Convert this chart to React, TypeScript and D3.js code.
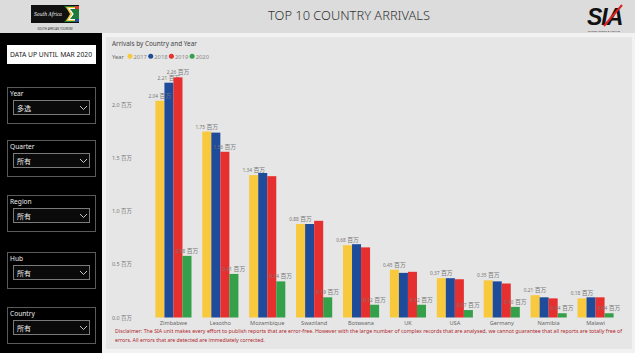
import React from "react";
import * as d3 from "d3";

const countries = ["Zimbabwe", "Lesotho", "Mozambique", "Swaziland", "Botswana", "UK", "USA", "Germany", "Namibia", "Malawi"];
const years = ["2017", "2018", "2019", "2020"];
const v2017 = [2.04, 1.75, 1.34, 0.88, 0.68, 0.45, 0.37, 0.35, 0.21, 0.18];
const v2018 = [2.21, 1.74, 1.36, 0.88, 0.69, 0.42, 0.37, 0.34, 0.19, 0.19];
const v2019 = [2.26, 1.56, 1.33, 0.91, 0.66, 0.43, 0.36, 0.32, 0.18, 0.19];
const v2020 = [0.58, 0.41, 0.34, 0.19, 0.12, 0.12, 0.07, 0.10, 0.04, 0.04];
const yTicks = [0, 0.5, 1.0, 1.5, 2.0];
// which data labels Power BI displays (others hidden due to overlap)
const shownLabels: Record<string, string[]> = {
  "2017": countries,
  "2018": ["Zimbabwe"],
  "2019": ["Zimbabwe", "Lesotho"],
  "2020": countries,
};
const colors = ["#F8C93C", "#1E4C9A", "#E6302F", "#34A04A"];
const slicers = [
  { label: "Year", value: "多选" },
  { label: "Quarter", value: "所有" },
  { label: "Region", value: "所有" },
  { label: "Hub", value: "所有" },
  { label: "Country", value: "所有" },
];
const slicerTops = [87, 140, 195, 252, 307];

const FONT = "'Segoe UI', 'Noto Sans', 'Noto Sans CJK SC', sans-serif";

export default function App() {
  const series = [v2017, v2018, v2019, v2020];
  const x = d3.scaleBand<string>().domain(countries).range([150, 619]).paddingInner(0.23).paddingOuter(0.115);
  const xi = d3.scaleBand<string>().domain(years).range([0, x.bandwidth()]).padding(0);
  const y = d3.scaleLinear().domain([0, 2.4]).range([317.5, 317.5 - 2.4 * 106.25]);

  const labels = (under: boolean) =>
    countries.map((c, ci) =>
      years.map((yr, yi) => {
        if (!shownLabels[yr].includes(c)) return null;
        if ((yr === "2018") !== under) return null;
        const v = series[yi][ci];
        const cx = (x(c) as number) + (xi(yr) as number) + xi.bandwidth() / 2;
        return (
          <text key={c + yr} x={cx} y={y(v) - 3} textAnchor="middle" fontSize={5.8} fill="#777">
            <tspan fontSize={4.8}>{v.toFixed(2)}</tspan> 百万
          </text>
        );
      })
    );

  return (
    <svg width={635} height={353} style={{ position: "fixed", left: 0, top: 0, fontFamily: FONT }}>
      <rect x={0} y={0} width={635} height={353} fill="#f2f2f2" />
      {/* header */}
      <rect x={0} y={0} width={635} height={33} fill="#dcdcdc" />
      <text x={349} y={20} textAnchor="middle" fontSize={12.8} fill="#333" fontWeight={300} textLength={162} lengthAdjust="spacingAndGlyphs">TOP 10 COUNTRY ARRIVALS</text>
      {/* SA logo */}
      <rect x={31} y={5} width={48} height={18} fill="#111" />
      <text x={34} y={16} fontSize={5.5} fill="#fff" fontStyle="italic" fontFamily="'DejaVu Serif', serif" textLength={28} lengthAdjust="spacingAndGlyphs">South Africa</text>
      <polygon points="64,6 79,6 79,22 64,22 71,14" fill="#1d7a3a" />
      <polygon points="66,7 79,7 79,10 70,10 72,14 70,18 79,18 79,21 66,21 70,14" fill="#f2c12e" />
      <polygon points="68,8 79,8 79,11 72,11 74,14 72,17 79,17 79,20 68,20 72,14" fill="#fff" />
      <polygon points="70,9 79,9 79,12.5 75,12.5 76,14 75,15.5 79,15.5 79,19 70,19 74,14" fill="#1d7a3a" />
      <rect x={75} y={6} width={4} height={3} fill="#d63b2d" />
      <rect x={75} y={19} width={4} height={3} fill="#1f4ea0" />
      <text x={55} y={30} textAnchor="middle" fontSize={2.8} fill="#333">SOUTH AFRICAN TOURISM</text>
      {/* SIA logo */}
      <text x={587} y={25} fontSize={23} fontWeight={900} fontStyle="italic" fill="#111" fontFamily="'Liberation Sans', Arial, sans-serif" letterSpacing={-1}>SIA</text>
      <line x1={604} y1={26} x2={622} y2={5} stroke="#e02020" strokeWidth={2} />
      <text x={604} y={31.5} textAnchor="middle" fontSize={2.4} fill="#333">Strategy Insights &amp; Analytics</text>

      {/* left panel */}
      <rect x={0} y={33} width={102} height={320} fill="#000" />
      <rect x={7} y={45} width={89} height={19} fill="#fff" />
      <text x={10} y={57} fontSize={6.6} fill="#222" textLength={82} lengthAdjust="spacingAndGlyphs">DATA UP UNTIL MAR 2020</text>
      {slicers.map((s, i) => {
        const t = slicerTops[i];
        return (
          <g key={s.label}>
            <rect x={7.5} y={t + 0.5} width={88} height={36} fill="#000" stroke="#5a5a5a" strokeWidth={1} />
            <text x={10} y={t + 9} fontSize={6.6} fill="#eee">{s.label}</text>
            <rect x={13.5} y={t + 13.5} width={76} height={14} fill="#0a0a0a" stroke="#7a7a7a" strokeWidth={1} />
            <text x={17} y={t + 23.5} fontSize={7} fill="#eee">{s.value}</text>
            <path d={`M${80},${t + 19} L${83.5},${t + 22.5} L${87},${t + 19}`} fill="none" stroke="#ddd" strokeWidth={0.9} />
          </g>
        );
      })}

      {/* chart panel */}
      <rect x={106} y={37} width={526} height={312} fill="#e6e6e6" />
      <text x={112} y={46} fontSize={6.4} fill="#444">Arrivals by Country and Year</text>
      <text x={112} y={58.5} fontSize={5.8} fill="#666">Year</text>
      {years.map((yr, i) => {
        const lx = 130 + i * 20.7;
        return (
          <g key={yr}>
            <circle cx={lx} cy={56.3} r={2.5} fill={colors[i]} />
            <text x={lx + 3.6} y={58.5} fontSize={5.8} fill="#888">{yr}</text>
          </g>
        );
      })}
      {yTicks.map((t) => (
        <text key={t} x={112} y={y(t) + 2} fontSize={5.4} fill="#777">{t.toFixed(1) + " 百万"}</text>
      ))}
      {labels(true)}
      {countries.map((c, ci) => (
        <g key={c}>
          {years.map((yr, yi) => {
            const v = series[yi][ci];
            return (
              <rect key={yr} x={(x(c) as number) + (xi(yr) as number)} y={y(v)} width={xi.bandwidth()} height={y(0) - y(v)} fill={colors[yi]} />
            );
          })}
          <text x={(x(c) as number) + x.bandwidth() / 2} y={325} textAnchor="middle" fontSize={5.6} fill="#666">{c}</text>
        </g>
      ))}
      {labels(false)}
      <text x={115} y={333} fontSize={5.2} fill="#b0282e" textLength={507} lengthAdjust="spacingAndGlyphs">Disclaimer: The SIA unit makes every effort to publish reports that are error-free. However with the large number of complex records that are analysed, we cannot guarantee that all reports are totally free of</text>
      <text x={115} y={342} fontSize={5.2} fill="#b0282e">errors. All errors that are detected are immediately corrected.</text>
    </svg>
  );
}
